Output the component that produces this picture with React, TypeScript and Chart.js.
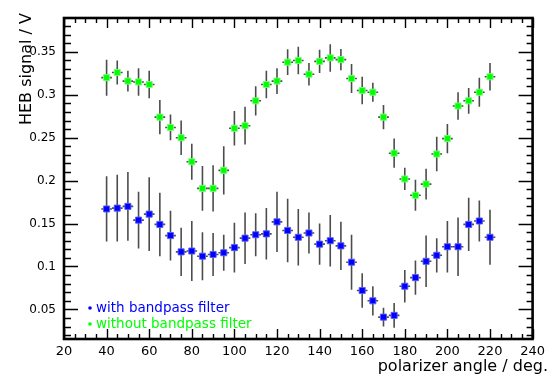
import React, { useEffect, useRef } from "react";
import { Chart, registerables } from "chart.js";

Chart.register(...registerables);

const angles = [40, 45, 50, 55, 60, 65, 70, 75, 80, 85, 90, 95, 100, 105, 110, 115, 120, 125, 130, 135, 140, 145, 150, 155, 160, 165, 170, 175, 180, 185, 190, 195, 200, 205, 210, 215, 220];

const withoutFilter = [0.320, 0.326, 0.316, 0.315, 0.312, 0.274, 0.262, 0.250, 0.222, 0.191, 0.191, 0.212, 0.261, 0.264, 0.293, 0.312, 0.316, 0.338, 0.340, 0.324, 0.339, 0.343, 0.341, 0.319, 0.305, 0.303, 0.274, 0.232, 0.202, 0.183, 0.196, 0.231, 0.249, 0.287, 0.293, 0.303, 0.321];
const withoutFilterErr = [0.021, 0.014, 0.012, 0.016, 0.016, 0.020, 0.015, 0.020, 0.021, 0.026, 0.027, 0.028, 0.020, 0.022, 0.017, 0.016, 0.015, 0.015, 0.016, 0.013, 0.0135, 0.016, 0.0125, 0.017, 0.016, 0.011, 0.014, 0.017, 0.013, 0.018, 0.018, 0.020, 0.017, 0.016, 0.015, 0.017, 0.016];

const withFilter = [0.167, 0.168, 0.170, 0.154, 0.161, 0.149, 0.136, 0.117, 0.118, 0.112, 0.114, 0.116, 0.122, 0.133, 0.137, 0.138, 0.152, 0.142, 0.134, 0.139, 0.126, 0.130, 0.124, 0.105, 0.072, 0.060, 0.041, 0.043, 0.077, 0.087, 0.106, 0.113, 0.123, 0.123, 0.149, 0.153, 0.134];
const withFilterErr = [0.038, 0.039, 0.040, 0.033, 0.043, 0.037, 0.029, 0.028, 0.035, 0.028, 0.025, 0.021, 0.029, 0.030, 0.025, 0.030, 0.035, 0.037, 0.033, 0.024, 0.024, 0.030, 0.028, 0.032, 0.020, 0.017, 0.011, 0.0145, 0.019, 0.020, 0.030, 0.020, 0.030, 0.034, 0.031, 0.024, 0.032];

const angleHalfWidth = 2.5;

const xTickValues = [20, 40, 60, 80, 100, 120, 140, 160, 180, 200, 220, 240];
const yTickValues = [0.05, 0.1, 0.15, 0.2, 0.25, 0.3, 0.35];

const seriesLabels = ["with bandpass filter", "without bandpass filter"];
const seriesColors = ["#0000ff", "#00ff00"];
const xTitle = "polarizer angle / deg.";
const yTitle = "HEB signal / V";

const FONT = "'DejaVu Sans', sans-serif";

const errorBarPlugin = {
  id: "errorBars",
  beforeDatasetsDraw(chart: any) {
    const { ctx, scales } = chart;
    const xs = scales.x;
    const ys = scales.y;
    ctx.save();
    ctx.strokeStyle = "rgba(0,0,0,0.7)";
    ctx.lineWidth = 1.6;
    chart.data.datasets.forEach((ds: any) => {
      const errs: number[] = ds.errors;
      ds.data.forEach((p: any, i: number) => {
        const px = xs.getPixelForValue(p.x);
        const py = ys.getPixelForValue(p.y);
        const y1 = ys.getPixelForValue(p.y + errs[i]);
        const y2 = ys.getPixelForValue(p.y - errs[i]);
        const x1 = xs.getPixelForValue(p.x - angleHalfWidth);
        const x2 = xs.getPixelForValue(p.x + angleHalfWidth);
        ctx.beginPath();
        ctx.moveTo(px, y1);
        ctx.lineTo(px, y2);
        ctx.moveTo(x1, py);
        ctx.lineTo(x2, py);
        ctx.stroke();
      });
    });
    ctx.restore();
  },
};

const framePlugin = {
  id: "frame",
  afterDraw(chart: any) {
    const { ctx, chartArea, scales } = chart;
    const { left, right, top, bottom } = chartArea;
    const xs = scales.x;
    const ys = scales.y;
    ctx.save();
    ctx.strokeStyle = "#000";
    ctx.lineWidth = 1.4;
    ctx.beginPath();
    for (let v = 20; v <= 240; v += 5) {
      const px = Math.round(xs.getPixelForValue(v)) + 0.5;
      const major = v % 20 === 0;
      ctx.moveTo(px, bottom);
      ctx.lineTo(px, bottom - (major ? 10 : 5));
      ctx.moveTo(px, top);
      ctx.lineTo(px, top + (major ? 10 : 5));
    }
    for (let i = 2; i <= 38; i++) {
      const py = Math.round(ys.getPixelForValue(i / 100)) + 0.5;
      const major = i % 5 === 0;
      ctx.moveTo(left, py);
      ctx.lineTo(left + (major ? 14 : 7), py);
      ctx.moveTo(right, py);
      ctx.lineTo(right - (major ? 14 : 6), py);
    }
    ctx.stroke();
    ctx.lineWidth = 2.6;
    ctx.strokeRect(left, top, right - left, bottom - top);

    // legend
    ctx.font = "13.5px " + FONT;
    ctx.textAlign = "left";
    ctx.textBaseline = "middle";
    seriesLabels.forEach((label, i) => {
      const ly = 308 + i * 16;
      ctx.fillStyle = seriesColors[i];
      ctx.beginPath();
      ctx.arc(90, ly, 1.8, 0, Math.PI * 2);
      ctx.fill();
      ctx.fillText(label, 96, ly);
    });

    // axis titles
    ctx.fillStyle = "#000";
    ctx.font = "16px " + FONT;
    ctx.textAlign = "right";
    ctx.textBaseline = "alphabetic";
    ctx.fillText(xTitle, 548, 371);
    ctx.save();
    ctx.translate(31, 13);
    ctx.rotate(-Math.PI / 2);
    ctx.textBaseline = "alphabetic";
    ctx.fillText(yTitle, 0, 0);
    ctx.restore();
    ctx.restore();
  },
};

export default function App() {
  const ref = useRef<HTMLCanvasElement | null>(null);
  useEffect(() => {
    document.body.style.margin = "0";
    const canvas = ref.current;
    if (!canvas) return;
    const chart = new Chart(canvas, {
      type: "scatter",
      data: {
        datasets: [
          {
            label: seriesLabels[0],
            data: angles.map((a, i) => ({ x: a, y: withFilter[i] })),
            errors: withFilterErr,
            backgroundColor: seriesColors[0],
            borderColor: "rgba(90,90,255,0.9)",
            borderWidth: 1,
            pointStyle: "rect",
            pointRadius: 4.3,
          } as any,
          {
            label: seriesLabels[1],
            data: angles.map((a, i) => ({ x: a, y: withoutFilter[i] })),
            errors: withoutFilterErr,
            backgroundColor: seriesColors[1],
            borderColor: "rgba(120,255,120,0.9)",
            borderWidth: 1,
            pointStyle: "rect",
            pointRadius: 4.3,
          } as any,
        ],
      },
      options: {
        responsive: false,
        animation: false,
        layout: { padding: { top: 18, right: 13, left: 0, bottom: 0 } },
        plugins: {
          legend: { display: false },
          tooltip: { enabled: false },
        },
        scales: {
          x: {
            type: "linear",
            min: 20,
            max: 240,
            grid: { display: false, drawTicks: false },
            border: { display: false },
            afterBuildTicks: (scale: any) => {
              scale.ticks = xTickValues.map((v) => ({ value: v }));
            },
            afterFit: (scale: any) => {
              scale.height = 37;
            },
            ticks: {
              color: "#000",
              padding: 5,
              maxRotation: 0,
              autoSkip: false,
              font: { family: FONT, size: 13 },
              callback: (v: any) => String(v),
            },
          },
          y: {
            type: "linear",
            min: 0.0155,
            max: 0.3895,
            grid: { display: false, drawTicks: false },
            border: { display: false },
            afterBuildTicks: (scale: any) => {
              scale.ticks = yTickValues.map((v) => ({ value: v }));
            },
            afterFit: (scale: any) => {
              scale.width = 64;
            },
            ticks: {
              color: "#000",
              padding: 8,
              autoSkip: false,
              font: { family: FONT, size: 12 },
              callback: (v: any) => String(Math.round(Number(v) * 100) / 100),
            },
          },
        },
      } as any,
      plugins: [errorBarPlugin, framePlugin],
    });
    return () => chart.destroy();
  }, []);
  return (
    <div style={{ width: 550, height: 376 }}>
      <canvas ref={ref} width={550} height={376} style={{ display: "block" }} />
    </div>
  );
}
